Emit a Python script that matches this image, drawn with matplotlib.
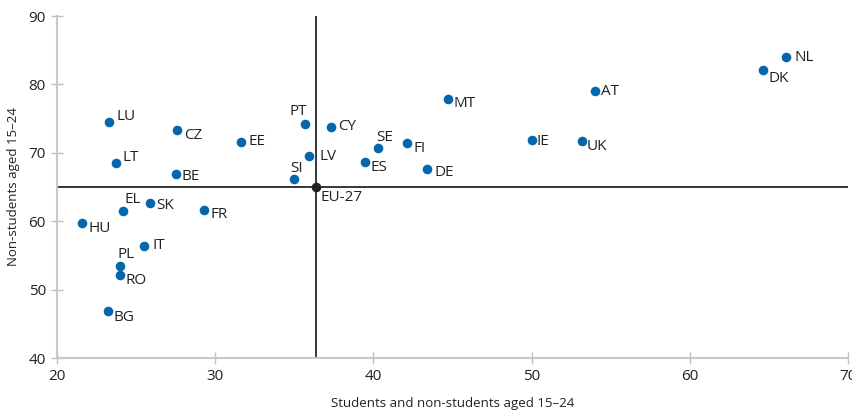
import matplotlib
matplotlib.use("Agg")
import matplotlib.pyplot as plt

countries = ["LU", "LT", "CZ", "BE", "EE", "EL", "SK", "FR", "HU", "IT", "PL", "RO", "BG",
             "SI", "PT", "LV", "CY", "SE", "ES", "FI", "DE", "MT", "IE", "UK", "AT", "DK", "NL"]
students_all = [23.3, 23.7, 27.6, 27.5, 31.6, 24.2, 25.9, 29.3, 21.6, 25.5, 24.0, 24.0, 23.2,
                35.0, 35.7, 35.9, 37.3, 40.3, 39.5, 42.1, 43.4, 44.7, 50.0, 53.2, 54.0, 64.6, 66.1]
non_students = [74.5, 68.5, 73.3, 66.9, 71.6, 61.5, 62.7, 61.6, 59.7, 56.4, 53.5, 52.1, 46.9,
                66.2, 74.2, 69.5, 73.8, 70.7, 68.7, 71.4, 67.6, 77.9, 71.9, 71.7, 79.0, 82.1, 84.0]
eu_label = "EU-27"
eu_x = 36.4
eu_y = 65.0

# label offsets in pixels (dx, dy, ha)
offsets = {
    "LU": (7, 6, "left"), "LT": (7, 6, "left"), "CZ": (7, -5, "left"), "BE": (6, -2, "left"),
    "EE": (8, 0, "left"), "EL": (1, 11, "left"), "SK": (6, -3, "left"), "FR": (6, -4, "left"),
    "HU": (6, -5, "left"), "IT": (8, 0, "left"), "PL": (-3, 11, "left"), "RO": (5, -5, "left"),
    "BG": (6, -7, "left"), "SI": (-4, 10, "left"), "PT": (2, 13, "right"), "LV": (11, 0, "left"),
    "CY": (7, 0, "left"), "SE": (-2, 11, "left"), "ES": (5, -6, "left"), "FI": (7, -5, "left"),
    "DE": (7, -3, "left"), "MT": (6, -5, "left"), "IE": (5, -2, "left"), "UK": (4, -5, "left"),
    "AT": (6, 0, "left"), "DK": (6, -8, "left"), "NL": (8, 0, "left"),
}

plt.rcParams['font.family'] = ['Open Sans', 'DejaVu Sans']
fig = plt.figure(figsize=(8.53, 4.16), dpi=100)
ax = fig.add_axes([57/853, 1-358/416, (848-57)/853, (358-16)/416])

ax.set_xlim(20, 70)
ax.set_ylim(40, 90)

ax.axhline(eu_y, color="black", lw=1.1, zorder=1)
ax.axvline(eu_x, color="black", lw=1.1, zorder=1)

blue = "#0466ac"
ax.scatter(students_all, non_students, s=48, color=blue, zorder=3, linewidths=0)
ax.scatter([eu_x], [eu_y], s=48, color="#222222", zorder=3, linewidths=0)

for c, x, y in zip(countries, students_all, non_students):
    dx, dy, ha = offsets[c]
    ax.annotate(c, (x, y), xytext=(dx, dy), textcoords="offset pixels",
                ha=ha, va="center", fontsize=11, color="#222222")
ax.annotate(eu_label, (eu_x, eu_y), xytext=(4, -10), textcoords="offset pixels",
            ha="left", va="center", fontsize=11, color="#222222")

for s in ["top", "right"]:
    ax.spines[s].set_visible(False)
for s in ["left", "bottom"]:
    ax.spines[s].set_color("#c8c8c8")
    ax.spines[s].set_linewidth(1.5)
ax.set_xticks([20, 30, 40, 50, 60, 70])
ax.set_yticks([40, 50, 60, 70, 80, 90])
ax.tick_params(direction="inout", length=8, width=1, color="#c0c0c0",
               labelsize=11, labelcolor="#222222", pad=4)
ax.set_xlabel("Students and non-students aged 15\u201324", fontsize=9.5, color="#222222", labelpad=9)
ax.set_ylabel("Non-students aged 15\u201324", fontsize=9.5, color="#222222", labelpad=6)

fig.savefig("out.png", dpi=100)
